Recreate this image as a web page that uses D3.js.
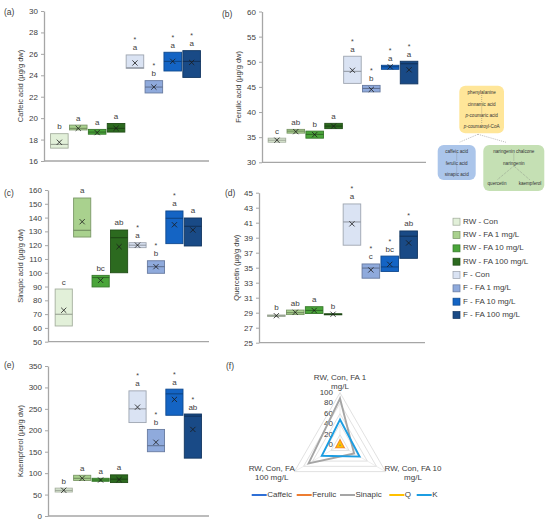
<!DOCTYPE html>
<html>
<head>
<meta charset="utf-8">
<script src="https://cdn.jsdelivr.net/npm/d3@7"></script>
<style>
  body { margin: 0; background: #fff; }
  text { font-family: "Liberation Sans", Arial, sans-serif; }
</style>
</head>
<body>
<div id="chart"></div>
<script>
// groups and palette
const groups = ["RW - Con", "RW - FA 1 mg/L", "RW - FA 10 mg/L", "RW - FA 100 mg/L",
                "F - Con", "F - FA 1 mg/L", "F - FA 10 mg/L", "F - FA 100 mg/L"]
const palette = ["#e2f0d9", "#a9d18e", "#4aa53a", "#2c6a1f", "#dae3f3", "#8faadc", "#1464c4", "#194a86"]

// (a) caffeic acid: box low / high, median, mean, letters, stars
const caffeicLow = [17.2, 18.9, 18.5, 18.7, 24.65, 22.35, 24.4, 23.8]
const caffeicHigh = [18.55, 19.35, 18.95, 19.5, 25.9, 23.5, 26.15, 26.3]
const caffeicMed = [17.55, 19.05, 18.7, 19.05, 24.7, 22.9, 25.3, 25.3]
const caffeicMean = [17.75, 19.05, 18.65, 19.05, 25.15, 22.9, 25.3, 25.2]
const caffeicLetters = ["b", "a", "a", "a", "a", "b", "a", "a"]
const caffeicStars = [0, 0, 0, 0, 1, 1, 1, 1]

// (b) ferulic acid
const ferulicLow = [34.0, 35.8, 34.8, 36.7, 45.7, 44.0, 48.5, 45.6]
const ferulicHigh = [34.8, 36.55, 36.2, 37.75, 51.1, 45.3, 49.3, 50.1]
const ferulicMed = [34.4, 36.2, 35.55, 37.2, 48.1, 44.7, 49.0, 49.6]
const ferulicMean = [34.4, 36.1, 35.5, 37.2, 48.3, 44.5, 49.0, 48.4]
const ferulicLetters = ["c", "ab", "b", "a", "a", "b", "a", "a"]
const ferulicStars = [0, 0, 0, 0, 1, 1, 1, 1]

// (c) sinapic acid
const sinapicLow = [61.4, 125.9, 89.7, 100, 118.2, 99.6, 121.1, 119.4]
const sinapicHigh = [88.2, 154.2, 98.1, 131, 121.8, 108.7, 144.8, 139.7]
const sinapicMed = [69.9, 130.8, 96.5, 125.4, 120, 104.4, 139.5, 133.7]
const sinapicMean = [72.8, 137, 94.5, 118.9, 120, 104.4, 134.8, 131]
const sinapicLetters = ["c", "a", "bc", "ab", "a", "b", "a", "a"]
const sinapicStars = [0, 0, 0, 0, 1, 1, 1, 0]

// (d) quercetin
const quercetinLow = [28.5, 28.75, 28.9, 28.75, 38.0, 33.6, 34.5, 36.25]
const quercetinHigh = [28.7, 29.35, 29.8, 28.85, 43.5, 35.5, 36.55, 39.9]
const quercetinMed = [28.6, 29.0, 29.3, 28.8, 41.1, 34.95, 35.1, 39.2]
const quercetinMean = [28.6, 29.05, 29.3, 28.8, 40.85, 34.7, 35.45, 38.3]
const quercetinLetters = ["b", "ab", "a", "b", "a", "c", "bc", "ab"]
const quercetinStars = [0, 0, 0, 0, 1, 1, 1, 1]

// (e) kaempferol
const kaempferolLow = [56, 83, 81, 78, 218, 150, 235, 135]
const kaempferolHigh = [65, 95, 88, 96, 292, 202, 296, 238]
const kaempferolMed = [60, 88, 84, 86, 250, 164, 285, 233]
const kaempferolMean = [60, 88, 84, 85, 254, 172, 272, 202]
const kaempferolLetters = ["b", "a", "a", "a", "a", "b", "a", "ab"]
const kaempferolStars = [0, 0, 0, 0, 1, 1, 1, 1]

// (f) radar
const radarAxes = [["RW, Con, FA 1", "mg/L"], ["RW, Con, FA 10", "mg/L"], ["RW, Con, FA", "100 mg/L"]]
const radarSeries = ["Caffeic", "Ferulic", "Sinapic", "Q", "K"]
const radarCaffeic = [4, 4, 4]
const radarFerulic = [9, 8, 8]
const radarSinapic = [89, 31, 69]
const radarQ = [6, 5, 5]
const radarK = [49, 43, 40]
const radarTicks = [0, 20, 40, 60, 80, 100]
const radarColors = ["#2e6fd6", "#ed7d31", "#a5a5a5", "#ffc000", "#1c9de2"]

const width = 550
const height = 525

const svg = d3.select("#chart")
  .append("svg")
    .attr("width", width)
    .attr("height", height)

svg.append("rect").attr("width", width).attr("height", height).attr("fill", "#fff")

const axisGrey = "#a6a6a6"
const textCol = "#404040"

function boxPanel(p) {
  const rows = groups.map((g, i) => ({
    g: g, i: i, low: p.low[i], high: p.high[i], med: p.med[i], mean: p.mean[i],
    letter: p.letters[i], star: p.stars[i]
  }))

  const x = d3.scaleBand()
    .domain(groups)
    .range([p.x0, p.x1])
    .paddingInner(0.07)
    .paddingOuter(0.03)
  const y = d3.scaleLinear()
    .domain(p.domain)
    .range([p.yBottom, p.yTop])

  const g = svg.append("g")

  // y axis
  const yAxis = g.append("g")
    .attr("transform", `translate(${p.axisX},0)`)
    .call(d3.axisLeft(y).tickValues(p.ticks).tickSize(3).tickPadding(3).tickSizeOuter(0))
  yAxis.select(".domain").attr("stroke", axisGrey).attr("stroke-width", 1.3)
  yAxis.selectAll(".tick line").attr("stroke", axisGrey)
  yAxis.selectAll(".tick text").attr("fill", textCol).style("font-size", "8px")
    .style("font-family", "'Liberation Sans', Arial, sans-serif")

  // x axis line
  g.append("line")
    .attr("x1", p.axisX).attr("x2", p.axisEnd)
    .attr("y1", p.yBottom).attr("y2", p.yBottom)
    .attr("stroke", axisGrey).attr("stroke-width", 1.3)

  // y title
  g.append("text")
    .attr("transform", `translate(${p.titleX},${(p.yTop + p.yBottom) / 2}) rotate(-90)`)
    .attr("text-anchor", "middle")
    .attr("dominant-baseline", "middle")
    .attr("fill", textCol)
    .style("font-size", "7.5px")
    .text(p.title)

  // panel label
  g.append("text")
    .attr("x", p.labelX).attr("y", p.labelY)
    .attr("fill", textCol)
    .style("font-size", "8.5px")
    .text(p.label)

  const bw = x.bandwidth()

  // boxes
  g.selectAll(".box")
    .data(rows)
    .join("rect")
      .attr("class", "box")
      .attr("x", d => x(d.g))
      .attr("width", bw)
      .attr("y", d => y(d.high))
      .attr("height", d => Math.max(1, y(d.low) - y(d.high)))
      .attr("fill", d => palette[d.i])
      .attr("stroke", d => d3.color(palette[d.i]).darker(0.9))
      .attr("stroke-width", 0.9)

  // median
  g.selectAll(".med")
    .data(rows)
    .join("line")
      .attr("class", "med")
      .attr("x1", d => x(d.g)).attr("x2", d => x(d.g) + bw)
      .attr("y1", d => y(d.med)).attr("y2", d => y(d.med))
      .attr("stroke", d => d3.color(palette[d.i]).darker(1.4))
      .attr("stroke-width", 0.9)

  // mean marker
  const s = 2.6
  g.selectAll(".mean")
    .data(rows)
    .join("path")
      .attr("class", "mean")
      .attr("d", d => {
        const cx = x(d.g) + bw / 2, cy = y(d.mean)
        return `M${cx - s},${cy - s}L${cx + s},${cy + s}M${cx - s},${cy + s}L${cx + s},${cy - s}`
      })
      .attr("stroke", "#1a1a1a")
      .attr("stroke-width", 0.8)

  // letters
  g.selectAll(".letter")
    .data(rows)
    .join("text")
      .attr("class", "letter")
      .attr("x", d => x(d.g) + bw / 2)
      .attr("y", d => y(d.high) - 4.5)
      .attr("text-anchor", "middle")
      .attr("fill", textCol)
      .style("font-size", "8px")
      .text(d => d.letter)

  // stars
  g.selectAll(".star")
    .data(rows.filter(d => d.star))
    .join("text")
      .attr("class", "star")
      .attr("x", d => x(d.g) + bw / 2)
      .attr("y", d => y(d.high) - 12.5)
      .attr("text-anchor", "middle")
      .attr("fill", textCol)
      .style("font-size", "7px")
      .text("*")
}

boxPanel({ label: "(a)", labelX: 4, labelY: 15, title: "Caffeic acid (\u00b5g/g dw)", titleX: 21,
  axisX: 44, axisEnd: 209, x0: 50, x1: 201, yTop: 11, yBottom: 161,
  domain: [16, 30], ticks: d3.range(16, 31, 2),
  low: caffeicLow, high: caffeicHigh, med: caffeicMed, mean: caffeicMean,
  letters: caffeicLetters, stars: caffeicStars })

boxPanel({ label: "(b)", labelX: 222, labelY: 17, title: "Ferulic acid (\u00b5g/g dw)", titleX: 239,
  axisX: 262, axisEnd: 426, x0: 267.6, x1: 418.4, yTop: 11.5, yBottom: 162.3,
  domain: [30, 60], ticks: d3.range(30, 61, 5),
  low: ferulicLow, high: ferulicHigh, med: ferulicMed, mean: ferulicMean,
  letters: ferulicLetters, stars: ferulicStars })

boxPanel({ label: "(c)", labelX: 4, labelY: 196, title: "Sinapic acid (\u00b5g/g dw)", titleX: 21.5,
  axisX: 48, axisEnd: 209, x0: 54.6, x1: 202, yTop: 190, yBottom: 341.7,
  domain: [50, 160], ticks: d3.range(50, 161, 10),
  low: sinapicLow, high: sinapicHigh, med: sinapicMed, mean: sinapicMean,
  letters: sinapicLetters, stars: sinapicStars })

boxPanel({ label: "(d)", labelX: 225, labelY: 196, title: "Quercetin (\u00b5g/g dw)", titleX: 237,
  axisX: 259, axisEnd: 425, x0: 267, x1: 418, yTop: 192.7, yBottom: 342.7,
  domain: [25, 45], ticks: d3.range(25, 46, 2),
  low: quercetinLow, high: quercetinHigh, med: quercetinMed, mean: quercetinMean,
  letters: quercetinLetters, stars: quercetinStars })

boxPanel({ label: "(e)", labelX: 4, labelY: 368, title: "Kaempferol (\u00b5g/g dw)", titleX: 21.5,
  axisX: 48, axisEnd: 209, x0: 54.6, x1: 202, yTop: 366, yBottom: 516,
  domain: [0, 350], ticks: d3.range(0, 351, 50),
  low: kaempferolLow, high: kaempferolHigh, med: kaempferolMed, mean: kaempferolMean,
  letters: kaempferolLetters, stars: kaempferolStars })

// legend
const legend = svg.append("g")
const legendItems = legend.selectAll(".legend-item")
  .data(groups)
  .join("g")
    .attr("class", "legend-item")
    .attr("transform", (d, i) => `translate(453, ${221.7 + i * 13.33})`)
legendItems.append("rect")
  .attr("x", 0).attr("y", -3.5)
  .attr("width", 7).attr("height", 7)
  .attr("fill", (d, i) => palette[i])
  .attr("stroke", (d, i) => d3.color(palette[i]).darker(1))
  .attr("stroke-width", 0.7)
legendItems.append("text")
  .attr("x", 10).attr("y", 0)
  .attr("dominant-baseline", "middle")
  .attr("fill", textCol)
  .style("font-size", "8px")
  .text(d => d)

// pathway scheme
const scheme = svg.append("g").style("font-size", "4.6px").attr("fill", "#333")
function dash(x1, y1, x2, y2) {
  scheme.append("line").attr("x1", x1).attr("y1", y1).attr("x2", x2).attr("y2", y2)
    .attr("stroke", "#777").attr("stroke-width", 0.5).attr("stroke-dasharray", "1,1")
}
function label(x, y, t, italicP) {
  const el = scheme.append("text").attr("x", x).attr("y", y)
    .attr("text-anchor", "middle").attr("dominant-baseline", "middle").attr("fill", "#333")
  if (italicP) {
    el.append("tspan").style("font-style", "italic").text("p")
    el.append("tspan").text(t)
  } else el.text(t)
}
scheme.append("rect").attr("x", 459.3).attr("y", 85.7).attr("width", 44.7).attr("height", 47.6)
  .attr("rx", 6).attr("fill", "#ffe699")
label(481.7, 92.7, "phenylalanine")
label(481.7, 104.3, "cinnamic acid")
label(481.7, 115.7, "-coumaric acid", true)
label(481.7, 127, "-coumaroyl-CoA", true)
dash(481.7, 95, 481.7, 102); dash(481.7, 106.5, 481.7, 113.5); dash(481.7, 118, 481.7, 124.5)
dash(478, 134.3, 459.3, 142.3); dash(478, 134.3, 506, 142.3)

scheme.append("rect").attr("x", 437.7).attr("y", 145).attr("width", 38).attr("height", 35)
  .attr("rx", 6).attr("fill", "#abc5ea")
label(456.7, 151.3, "caffeic acid")
label(456.7, 163.3, "ferulic acid")
label(456.7, 174.3, "sinapic acid")
dash(456.7, 153.5, 456.7, 161); dash(456.7, 165.5, 456.7, 172)

scheme.append("rect").attr("x", 483.3).attr("y", 145).attr("width", 61).attr("height", 46)
  .attr("rx", 6).attr("fill", "#c5e0b4")
label(513.8, 151.3, "naringenin chalcone")
label(513.8, 163.7, "naringenin")
label(497, 183.3, "quercetin")
label(530, 183.3, "kaempferol")
dash(513.8, 153.5, 513.8, 161.5)
dash(513.8, 166, 497, 180); dash(513.8, 166, 530, 180)

// (f) radar
const radar = svg.append("g")
const cx = 340, cy = 445.3
const r = d3.scaleLinear().domain([0, 100]).range([0, 52.6])
const angles = [-Math.PI / 2, Math.PI / 6, 5 * Math.PI / 6]
const pt = (v, k) => [cx + r(v) * Math.cos(angles[k]), cy + r(v) * Math.sin(angles[k])]
const line = d3.line().curve(d3.curveLinearClosed)

radar.append("text").attr("x", 226).attr("y", 369).attr("fill", textCol)
  .style("font-size", "8.5px").text("(f)")

radar.selectAll(".grid")
  .data(radarTicks.slice(1))
  .join("path")
    .attr("class", "grid")
    .attr("d", v => line([0, 1, 2].map(k => pt(v, k))))
    .attr("fill", "none")
    .attr("stroke", "#d9d9d9")
    .attr("stroke-width", 0.8)
radar.selectAll(".spoke")
  .data([0, 1, 2])
  .join("line")
    .attr("class", "spoke")
    .attr("x1", cx).attr("y1", cy)
    .attr("x2", k => pt(100, k)[0]).attr("y2", k => pt(100, k)[1])
    .attr("stroke", "#e3e3e3").attr("stroke-width", 0.6)

radar.selectAll(".rtick")
  .data(radarTicks)
  .join("text")
    .attr("class", "rtick")
    .attr("x", cx - 7)
    .attr("y", v => cy - r(v))
    .attr("text-anchor", "end")
    .attr("dominant-baseline", "middle")
    .attr("fill", textCol)
    .style("font-size", "8px")
    .text(v => v)

const axisLabelPos = [[340, 378.3], [413, 469], [271.7, 469]]
radarAxes.forEach((lines, k) => {
  lines.forEach((t, j) => {
    radar.append("text")
      .attr("x", axisLabelPos[k][0]).attr("y", axisLabelPos[k][1] + j * 8.4)
      .attr("text-anchor", "middle").attr("dominant-baseline", "middle")
      .attr("fill", textCol).style("font-size", "8px")
      .text(t)
  })
})

const radarValues = [radarCaffeic, radarFerulic, radarSinapic, radarQ, radarK]
radar.selectAll(".series")
  .data(radarValues)
  .join("path")
    .attr("class", "series")
    .attr("d", vals => line(vals.map((v, k) => pt(v, k))))
    .attr("fill", "none")
    .attr("stroke", (d, i) => radarColors[i])
    .attr("stroke-width", 1.9)
    .attr("stroke-linejoin", "miter")

const rlegX = [251.7, 296.7, 340, 389.3, 416.7]
const rleg = radar.selectAll(".rleg")
  .data(radarSeries)
  .join("g")
    .attr("class", "rleg")
    .attr("transform", (d, i) => `translate(${rlegX[i]},495)`)
rleg.append("line").attr("x1", 0).attr("x2", 15).attr("y1", 0).attr("y2", 0)
  .attr("stroke", (d, i) => radarColors[i]).attr("stroke-width", 2)
rleg.append("text").attr("x", 15.5).attr("y", 0)
  .attr("dominant-baseline", "middle").attr("fill", textCol)
  .style("font-size", "8px").text(d => d)
</script>
</body>
</html>
